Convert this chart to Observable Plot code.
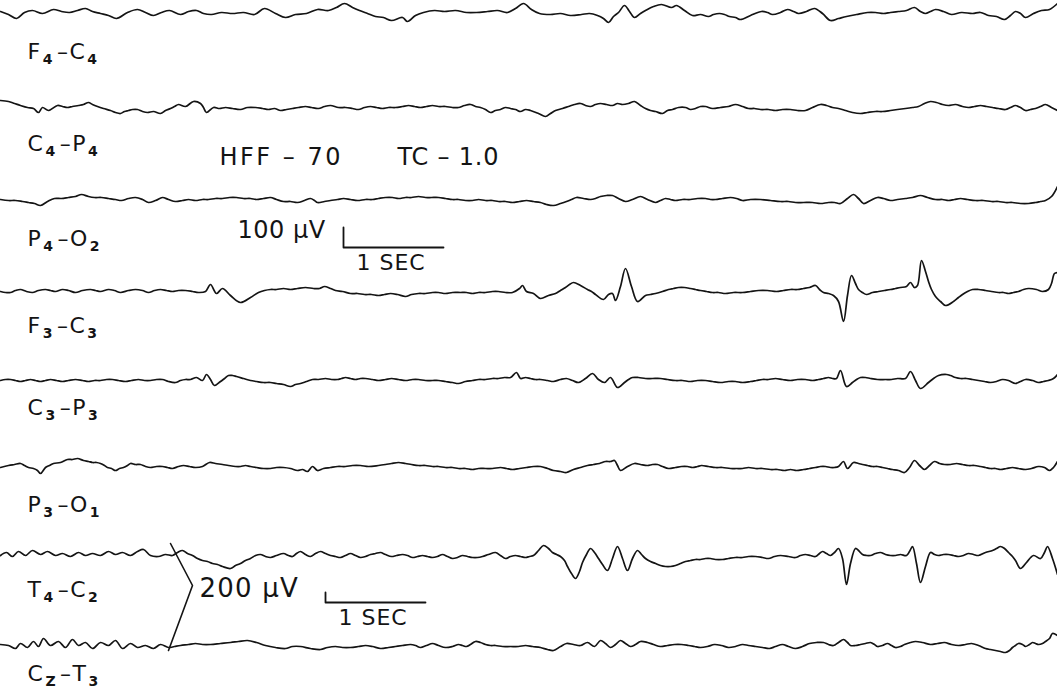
<!DOCTYPE html>
<html>
<head>
<meta charset="utf-8">
<script src="https://cdn.jsdelivr.net/npm/d3@7"></script>
<script src="https://cdn.jsdelivr.net/npm/@observablehq/plot@0.6"></script>
<style>
  html, body { margin: 0; padding: 0; background: #fff; }
  #chart svg { display: block; }
</style>
</head>
<body>
<div id="chart"></div>
<script>
// Bipolar montage channel names; "_x" marks a subscript character.
const channelNames = ["F_4–C_4", "C_4–P_4", "P_4–O_2", "F_3–C_3", "C_3–P_3", "P_3–O_1", "T_4–C_2", "C_Z–T_3"];

// Each trace: [time (s), deflection (µV)], positive = upward pen deflection.
const f4c4 = [[0,10],[0.08,-5],[0.16,-25],[0.24,5],[0.32,15],[0.42,0],[0.53,20],[0.61,10],[0.69,5],[0.77,15],[0.85,25],[0.92,10],[1.00,0],[1.08,-10],[1.16,-25],[1.27,5],[1.37,20],[1.45,5],[1.53,-10],[1.61,5],[1.69,15],[1.80,-5],[1.88,10],[1.96,15],[2.03,0],[2.11,-5],[2.21,5],[2.32,0],[2.43,5],[2.54,-5],[2.64,25],[2.75,0],[2.85,-20],[2.95,-5],[3.06,0],[3.17,20],[3.28,15],[3.36,30],[3.44,50],[3.52,30],[3.59,15],[3.67,0],[3.75,-15],[3.83,-20],[3.91,-35],[4.02,-20],[4.07,-40],[4.15,-10],[4.23,5],[4.34,15],[4.44,10],[4.55,15],[4.66,5],[4.76,5],[4.87,10],[4.97,15],[5.07,5],[5.15,25],[5.23,50],[5.31,20],[5.39,0],[5.50,-5],[5.60,0],[5.70,-10],[5.81,-5],[5.89,0],[5.97,-10],[6.03,-25],[6.08,-45],[6.13,-15],[6.18,5],[6.24,40],[6.29,10],[6.34,-20],[6.40,0],[6.45,15],[6.53,35],[6.61,45],[6.71,30],[6.76,40],[6.84,15],[6.92,-10],[7.00,-5],[7.08,-15],[7.13,-5],[7.19,0],[7.24,-5],[7.29,-15],[7.35,-20],[7.40,-30],[7.50,-10],[7.61,10],[7.67,5],[7.72,-5],[7.80,5],[7.87,20],[7.93,10],[7.98,0],[8.06,10],[8.14,25],[8.22,0],[8.30,-35],[8.38,-25],[8.46,-15],[8.56,-5],[8.67,5],[8.75,5],[8.83,0],[8.90,5],[8.98,10],[9.06,15],[9.14,30],[9.20,10],[9.25,0],[9.30,10],[9.35,20],[9.43,10],[9.51,-5],[9.61,5],[9.72,0],[9.80,5],[9.88,-10],[9.96,-15],[10.04,-30],[10.10,-10],[10.15,10],[10.20,0],[10.25,-20],[10.33,0],[10.41,15],[10.49,20],[10.57,50]];

const c4p4 = [[0,40],[0.08,35],[0.14,25],[0.20,15],[0.27,5],[0.33,0],[0.38,-20],[0.42,5],[0.48,-10],[0.57,15],[0.62,10],[0.67,5],[0.72,10],[0.78,15],[0.83,20],[0.88,30],[0.92,20],[0.97,10],[1.03,0],[1.10,-10],[1.15,-20],[1.20,-25],[1.24,-15],[1.28,-10],[1.32,-5],[1.37,-5],[1.42,-15],[1.47,-20],[1.53,-15],[1.60,-25],[1.65,-10],[1.70,0],[1.74,10],[1.78,20],[1.85,10],[1.93,35],[2.00,25],[2.03,5],[2.06,-20],[2.13,5],[2.19,0],[2.25,5],[2.32,0],[2.40,-5],[2.47,5],[2.55,5],[2.62,0],[2.68,-5],[2.74,0],[2.80,-10],[2.86,-5],[2.92,0],[2.98,5],[3.05,10],[3.11,5],[3.18,0],[3.24,10],[3.30,15],[3.38,5],[3.45,5],[3.52,0],[3.58,-5],[3.64,5],[3.70,10],[3.76,5],[3.82,0],[3.88,5],[3.95,5],[4.02,10],[4.08,15],[4.14,10],[4.20,5],[4.26,10],[4.32,15],[4.38,10],[4.45,10],[4.52,5],[4.58,5],[4.64,15],[4.70,20],[4.75,10],[4.80,5],[4.85,-5],[4.90,-20],[4.95,-10],[5.00,-5],[5.05,5],[5.10,0],[5.15,-5],[5.20,-15],[5.25,-5],[5.30,-10],[5.38,-25],[5.45,-40],[5.50,-25],[5.55,-10],[5.62,0],[5.68,10],[5.74,20],[5.80,25],[5.85,15],[5.90,10],[5.95,20],[6.00,25],[6.06,20],[6.12,15],[6.17,25],[6.22,20],[6.28,25],[6.34,35],[6.40,15],[6.45,0],[6.50,-10],[6.55,-15],[6.62,-25],[6.67,-10],[6.72,-5],[6.78,5],[6.85,5],[6.90,-5],[6.95,0],[7.00,10],[7.05,10],[7.12,0],[7.20,5],[7.28,10],[7.35,20],[7.42,10],[7.48,0],[7.54,0],[7.60,-5],[7.68,-5],[7.75,-10],[7.82,-5],[7.90,-5],[7.97,-10],[8.05,-10],[8.12,5],[8.20,20],[8.26,15],[8.32,5],[8.38,0],[8.45,-10],[8.52,-20],[8.60,-25],[8.67,-20],[8.75,-15],[8.82,-15],[8.90,-10],[8.97,-5],[9.05,0],[9.12,5],[9.18,10],[9.24,25],[9.30,35],[9.36,30],[9.42,20],[9.48,15],[9.55,20],[9.62,10],[9.68,5],[9.74,10],[9.80,15],[9.86,10],[9.92,5],[9.98,0],[10.05,-5],[10.10,5],[10.15,15],[10.20,5],[10.25,-10],[10.30,-5],[10.35,0],[10.40,10],[10.45,20],[10.51,5],[10.57,-10]];

const p4o2 = [[0,5],[0.08,0],[0.15,0],[0.22,-5],[0.28,-10],[0.34,-15],[0.40,-25],[0.47,-5],[0.54,10],[0.61,10],[0.68,15],[0.75,20],[0.81,30],[0.88,20],[0.94,15],[1.01,15],[1.08,10],[1.15,5],[1.21,0],[1.28,10],[1.35,15],[1.42,5],[1.48,-10],[1.55,0],[1.62,15],[1.68,5],[1.75,-5],[1.82,0],[1.88,5],[1.95,0],[2.02,5],[2.08,5],[2.15,10],[2.22,10],[2.29,15],[2.36,15],[2.43,10],[2.50,10],[2.56,5],[2.63,10],[2.70,15],[2.76,5],[2.83,-5],[2.90,-5],[2.97,-10],[3.04,0],[3.10,10],[3.14,0],[3.17,-10],[3.24,-5],[3.30,0],[3.37,5],[3.43,10],[3.50,5],[3.57,0],[3.65,5],[3.72,5],[3.78,10],[3.85,15],[3.92,15],[3.98,10],[4.05,15],[4.11,15],[4.18,20],[4.25,15],[4.31,15],[4.38,15],[4.45,10],[4.52,5],[4.58,5],[4.65,0],[4.72,0],[4.78,5],[4.85,0],[4.92,0],[4.98,-5],[5.05,-5],[5.12,-10],[5.19,-5],[5.26,0],[5.33,-5],[5.40,-10],[5.46,-20],[5.53,-25],[5.60,-15],[5.66,-5],[5.71,5],[5.76,15],[5.83,10],[5.90,5],[5.95,10],[6.00,20],[6.06,25],[6.12,25],[6.18,10],[6.25,-5],[6.32,5],[6.40,20],[6.47,5],[6.55,-10],[6.60,0],[6.65,10],[6.70,5],[6.75,0],[6.82,5],[6.90,5],[6.97,10],[7.05,10],[7.10,5],[7.15,5],[7.22,10],[7.30,15],[7.36,10],[7.42,0],[7.50,5],[7.60,5],[7.70,0],[7.80,-5],[7.88,-5],[7.95,-10],[8.03,-10],[8.12,-10],[8.20,-15],[8.28,-10],[8.34,-10],[8.40,-15],[8.47,10],[8.53,30],[8.58,10],[8.63,-15],[8.70,0],[8.77,15],[8.83,10],[8.90,0],[8.97,5],[9.05,10],[9.12,15],[9.20,25],[9.27,15],[9.35,5],[9.42,5],[9.48,0],[9.54,5],[9.60,10],[9.67,5],[9.75,0],[9.83,0],[9.91,-5],[9.98,-5],[10.05,-10],[10.12,-10],[10.20,-15],[10.28,-15],[10.35,-10],[10.40,-5],[10.45,0],[10.51,20],[10.57,70]];

const f3c3 = [[0,0],[0.05,-5],[0.10,-5],[0.15,5],[0.20,10],[0.26,0],[0.32,-5],[0.38,5],[0.45,10],[0.50,5],[0.55,0],[0.62,10],[0.68,5],[0.75,-5],[0.82,5],[0.90,10],[0.95,5],[1.00,0],[1.08,10],[1.14,5],[1.20,-5],[1.28,5],[1.35,10],[1.42,5],[1.48,-5],[1.54,5],[1.60,10],[1.66,5],[1.72,0],[1.78,5],[1.85,5],[1.92,0],[1.98,-5],[2.05,0],[2.10,35],[2.16,-10],[2.22,15],[2.30,-20],[2.40,-55],[2.50,-30],[2.58,-5],[2.64,5],[2.70,10],[2.76,10],[2.83,15],[2.90,10],[2.97,15],[3.05,20],[3.13,15],[3.19,15],[3.24,25],[3.30,15],[3.35,5],[3.42,0],[3.50,-10],[3.57,-10],[3.64,-15],[3.71,-15],[3.78,-20],[3.84,-15],[3.90,-10],[3.97,-15],[4.05,-25],[4.11,-15],[4.18,-10],[4.25,-10],[4.32,-5],[4.38,-5],[4.45,-10],[4.52,-5],[4.60,-5],[4.66,-5],[4.72,-10],[4.78,-5],[4.85,-5],[4.92,0],[4.98,0],[5.05,-5],[5.12,-5],[5.19,15],[5.22,30],[5.26,0],[5.33,-10],[5.40,-35],[5.48,-20],[5.55,-10],[5.60,5],[5.65,20],[5.69,35],[5.73,45],[5.80,30],[5.87,10],[5.91,0],[5.95,-15],[6.03,-40],[6.08,-15],[6.12,-10],[6.15,-45],[6.20,25],[6.25,115],[6.31,25],[6.37,-50],[6.45,-20],[6.50,-15],[6.55,-10],[6.62,0],[6.68,10],[6.73,15],[6.78,20],[6.84,20],[6.90,15],[6.95,10],[7.00,5],[7.06,0],[7.12,-5],[7.18,-5],[7.25,-10],[7.33,-5],[7.42,-5],[7.50,0],[7.58,5],[7.67,5],[7.76,0],[7.83,5],[7.90,10],[7.97,10],[8.03,15],[8.09,20],[8.15,30],[8.19,10],[8.23,-5],[8.28,-10],[8.33,-20],[8.38,-50],[8.43,-150],[8.47,-20],[8.51,80],[8.55,40],[8.58,10],[8.62,-5],[8.66,-15],[8.72,-5],[8.78,0],[8.84,5],[8.90,10],[8.95,15],[9.00,20],[9.06,25],[9.10,45],[9.14,20],[9.17,30],[9.21,155],[9.25,100],[9.28,50],[9.31,10],[9.35,-25],[9.40,-50],[9.45,-70],[9.53,-50],[9.58,-30],[9.62,-15],[9.67,0],[9.72,10],[9.78,10],[9.85,5],[9.91,0],[9.98,-5],[10.03,-5],[10.08,-10],[10.13,-5],[10.18,0],[10.23,10],[10.28,15],[10.36,10],[10.42,0],[10.48,10],[10.51,40],[10.54,90],[10.57,95]];

const c3p3 = [[0,0],[0.05,5],[0.10,5],[0.15,0],[0.20,-5],[0.25,0],[0.30,5],[0.35,0],[0.40,-5],[0.45,0],[0.50,5],[0.56,0],[0.62,-5],[0.68,0],[0.75,5],[0.82,0],[0.88,-5],[0.94,0],[1.00,0],[1.06,5],[1.12,5],[1.18,0],[1.25,-5],[1.31,0],[1.38,5],[1.44,0],[1.50,0],[1.56,5],[1.62,5],[1.68,-5],[1.75,-10],[1.80,0],[1.85,5],[1.90,5],[1.96,15],[2.02,0],[2.06,30],[2.10,5],[2.14,-25],[2.20,-5],[2.24,10],[2.28,25],[2.32,25],[2.36,20],[2.43,10],[2.50,0],[2.56,-5],[2.63,-10],[2.70,-10],[2.76,-15],[2.83,-20],[2.90,-30],[2.95,-20],[3.00,-15],[3.06,-5],[3.12,5],[3.18,5],[3.25,10],[3.31,5],[3.37,5],[3.41,10],[3.45,15],[3.50,10],[3.55,5],[3.60,10],[3.65,10],[3.72,5],[3.78,0],[3.85,5],[3.91,10],[3.98,5],[4.05,0],[4.12,5],[4.18,5],[4.25,0],[4.32,0],[4.38,0],[4.45,-5],[4.52,-10],[4.58,-15],[4.65,-5],[4.72,0],[4.78,5],[4.85,5],[4.92,10],[4.98,10],[5.04,15],[5.10,15],[5.16,40],[5.20,10],[5.25,15],[5.30,10],[5.35,5],[5.40,5],[5.47,0],[5.53,-5],[5.60,5],[5.66,10],[5.72,0],[5.78,-10],[5.85,10],[5.92,35],[5.98,5],[6.04,-10],[6.10,15],[6.17,-35],[6.24,-10],[6.28,5],[6.32,15],[6.38,15],[6.45,10],[6.52,10],[6.60,10],[6.67,5],[6.75,0],[6.82,0],[6.90,-5],[6.97,0],[7.05,0],[7.12,-5],[7.20,-10],[7.28,-5],[7.35,-5],[7.42,-10],[7.50,-5],[7.56,0],[7.62,5],[7.68,5],[7.75,10],[7.82,5],[7.90,0],[7.97,5],[8.05,5],[8.12,0],[8.18,5],[8.23,10],[8.28,15],[8.32,10],[8.36,10],[8.40,50],[8.46,-30],[8.52,-10],[8.56,5],[8.60,15],[8.65,15],[8.70,10],[8.77,5],[8.85,5],[8.91,5],[8.97,10],[9.05,10],[9.10,45],[9.15,0],[9.20,-40],[9.28,-10],[9.33,10],[9.38,25],[9.46,30],[9.50,25],[9.55,15],[9.60,10],[9.66,10],[9.72,5],[9.78,0],[9.84,-5],[9.90,-10],[9.96,-5],[10.02,5],[10.08,0],[10.15,-15],[10.20,-5],[10.25,5],[10.32,0],[10.38,-10],[10.43,-5],[10.48,0],[10.53,10],[10.57,30]];

const p3o1 = [[0,0],[0.08,10],[0.14,15],[0.20,20],[0.24,10],[0.28,0],[0.33,-5],[0.37,-15],[0.40,-30],[0.45,0],[0.49,10],[0.53,20],[0.60,25],[0.67,40],[0.72,40],[0.77,45],[0.83,35],[0.88,30],[0.92,25],[0.96,25],[1.00,20],[1.04,10],[1.07,0],[1.11,-5],[1.15,-15],[1.19,-5],[1.23,0],[1.27,10],[1.30,20],[1.35,15],[1.40,15],[1.45,5],[1.50,0],[1.56,5],[1.62,5],[1.67,0],[1.72,-5],[1.78,5],[1.83,10],[1.89,5],[1.95,0],[2.02,5],[2.09,25],[2.15,20],[2.22,15],[2.28,10],[2.35,5],[2.40,5],[2.45,10],[2.50,5],[2.56,0],[2.63,-5],[2.70,-5],[2.76,0],[2.83,0],[2.90,-5],[2.97,-15],[3.02,-10],[3.07,-20],[3.12,5],[3.17,-15],[3.23,-5],[3.30,0],[3.37,5],[3.45,5],[3.52,10],[3.60,10],[3.68,5],[3.78,10],[3.85,15],[3.91,20],[3.98,25],[4.05,20],[4.11,15],[4.18,10],[4.25,10],[4.32,5],[4.38,5],[4.45,0],[4.52,0],[4.58,-5],[4.65,-5],[4.72,-10],[4.78,-5],[4.85,-5],[4.92,-5],[5.00,0],[5.06,-5],[5.12,-10],[5.19,-5],[5.26,0],[5.33,5],[5.40,5],[5.47,-5],[5.53,-15],[5.60,-20],[5.66,-25],[5.73,-10],[5.80,0],[5.87,10],[5.93,15],[5.99,20],[6.05,30],[6.10,30],[6.14,35],[6.17,10],[6.20,-15],[6.27,5],[6.34,20],[6.40,15],[6.47,10],[6.52,15],[6.57,15],[6.62,5],[6.68,-5],[6.75,0],[6.81,5],[6.87,5],[6.92,0],[6.97,5],[7.01,10],[7.08,5],[7.15,0],[7.22,0],[7.30,-5],[7.36,-5],[7.42,-5],[7.48,0],[7.55,-5],[7.62,-5],[7.70,-10],[7.77,-10],[7.84,-15],[7.90,-10],[7.96,-15],[8.03,-10],[8.09,-5],[8.15,0],[8.20,5],[8.25,5],[8.30,0],[8.34,0],[8.38,5],[8.43,30],[8.47,-5],[8.53,25],[8.58,20],[8.62,15],[8.67,10],[8.72,5],[8.77,5],[8.82,0],[8.87,-5],[8.92,-10],[8.98,-15],[9.04,-25],[9.09,0],[9.14,35],[9.19,10],[9.24,-10],[9.29,10],[9.34,30],[9.39,20],[9.44,15],[9.50,15],[9.56,20],[9.62,15],[9.68,10],[9.74,10],[9.80,5],[9.85,0],[9.90,-5],[9.95,-5],[10.00,-10],[10.06,-5],[10.12,0],[10.18,-5],[10.25,-10],[10.31,-5],[10.38,5],[10.44,0],[10.49,-15],[10.53,0],[10.57,30]];

const t4c2 = [[0,60],[0.06,120],[0.12,40],[0.18,140],[0.25,60],[0.32,160],[0.40,80],[0.47,140],[0.55,60],[0.62,100],[0.70,40],[0.78,120],[0.85,60],[0.92,100],[1.00,60],[1.08,140],[1.15,80],[1.22,120],[1.30,60],[1.37,140],[1.43,180],[1.50,60],[1.58,40],[1.65,80],[1.72,60],[1.77,120],[1.82,160],[1.87,100],[1.92,60],[1.97,0],[2.02,-40],[2.07,-60],[2.12,-100],[2.17,-120],[2.22,-160],[2.30,-200],[2.35,-140],[2.40,-100],[2.45,-40],[2.50,0],[2.55,60],[2.60,80],[2.65,40],[2.70,20],[2.76,60],[2.83,100],[2.88,60],[2.92,40],[2.96,100],[3.00,140],[3.05,80],[3.10,40],[3.15,100],[3.20,140],[3.25,100],[3.30,60],[3.35,40],[3.40,20],[3.45,60],[3.50,100],[3.55,60],[3.60,20],[3.65,40],[3.70,80],[3.75,100],[3.80,120],[3.85,80],[3.91,40],[3.96,60],[4.02,80],[4.07,60],[4.12,20],[4.17,40],[4.22,60],[4.27,40],[4.32,20],[4.37,40],[4.42,80],[4.47,40],[4.52,0],[4.57,20],[4.62,60],[4.67,40],[4.72,20],[4.77,20],[4.82,40],[4.88,80],[4.95,120],[5.00,60],[5.05,0],[5.10,40],[5.15,60],[5.20,40],[5.25,20],[5.29,40],[5.33,60],[5.38,160],[5.43,260],[5.48,200],[5.52,120],[5.56,80],[5.60,40],[5.64,-40],[5.67,-160],[5.71,-300],[5.75,-400],[5.79,-260],[5.82,-80],[5.86,80],[5.90,200],[5.94,120],[5.98,0],[6.02,-120],[6.07,-240],[6.12,0],[6.17,240],[6.22,0],[6.27,-240],[6.32,0],[6.37,160],[6.41,80],[6.45,0],[6.50,-60],[6.55,-100],[6.60,-140],[6.65,-160],[6.70,-160],[6.75,-140],[6.80,-100],[6.85,-60],[6.90,-40],[6.95,-20],[7.00,-20],[7.05,0],[7.10,0],[7.15,-20],[7.22,-20],[7.28,0],[7.35,20],[7.42,20],[7.48,40],[7.55,40],[7.62,20],[7.68,0],[7.74,40],[7.80,60],[7.88,40],[7.95,20],[8.00,60],[8.05,80],[8.10,60],[8.15,40],[8.19,100],[8.22,140],[8.26,100],[8.30,60],[8.34,120],[8.38,200],[8.42,0],[8.46,-520],[8.50,-100],[8.55,200],[8.58,160],[8.62,80],[8.66,60],[8.70,60],[8.75,100],[8.80,120],[8.85,80],[8.90,60],[8.95,60],[9.00,80],[9.06,60],[9.09,140],[9.12,240],[9.16,-100],[9.20,-480],[9.25,-160],[9.30,120],[9.34,80],[9.38,60],[9.43,80],[9.48,80],[9.53,60],[9.58,40],[9.63,60],[9.68,100],[9.73,80],[9.78,60],[9.85,120],[9.92,160],[9.96,200],[10.00,240],[10.04,200],[10.08,120],[10.12,40],[10.15,-40],[10.20,-200],[10.26,-80],[10.33,60],[10.40,0],[10.44,120],[10.47,240],[10.52,0],[10.57,-320]];

const czt3 = [[0,20],[0.08,0],[0.15,-60],[0.20,40],[0.27,-40],[0.33,80],[0.38,-20],[0.43,140],[0.50,0],[0.58,80],[0.65,-40],[0.72,120],[0.78,0],[0.85,60],[0.92,-60],[1.00,60],[1.08,0],[1.15,100],[1.22,-60],[1.30,40],[1.37,-40],[1.45,0],[1.53,-60],[1.60,20],[1.68,-40],[1.74,-20],[1.80,0],[1.88,20],[1.95,40],[2.02,20],[2.10,20],[2.20,40],[2.30,60],[2.38,80],[2.47,100],[2.56,60],[2.65,0],[2.75,-40],[2.85,-60],[2.92,-20],[3.00,-20],[3.10,-60],[3.20,-80],[3.27,-40],[3.35,-20],[3.42,-40],[3.50,-40],[3.58,-20],[3.65,0],[3.72,-20],[3.80,-60],[3.88,-40],[3.95,-20],[4.02,0],[4.10,20],[4.15,0],[4.20,-40],[4.26,0],[4.32,40],[4.38,0],[4.45,-40],[4.52,-20],[4.58,20],[4.62,0],[4.66,-20],[4.70,20],[4.75,80],[4.80,60],[4.85,20],[4.90,0],[4.95,0],[5.02,-20],[5.10,-20],[5.18,-20],[5.25,0],[5.32,-20],[5.40,-40],[5.47,-80],[5.53,-100],[5.60,-20],[5.66,40],[5.73,20],[5.80,0],[5.87,60],[5.94,-20],[6.00,100],[6.05,40],[6.10,-40],[6.15,20],[6.20,100],[6.25,40],[6.30,-20],[6.35,20],[6.40,80],[6.47,60],[6.53,20],[6.60,-20],[6.67,0],[6.74,20],[6.81,20],[6.88,0],[6.94,-20],[7.00,-40],[7.07,-20],[7.14,20],[7.21,0],[7.28,-40],[7.35,-20],[7.42,20],[7.48,0],[7.55,-20],[7.62,-40],[7.69,-60],[7.75,-20],[7.82,20],[7.88,-20],[7.95,-60],[8.02,-20],[8.09,40],[8.16,60],[8.23,60],[8.28,20],[8.33,0],[8.38,60],[8.43,120],[8.47,60],[8.50,0],[8.55,0],[8.60,20],[8.65,40],[8.70,60],[8.74,20],[8.77,-20],[8.82,0],[8.87,40],[8.91,0],[8.95,-40],[9.00,-20],[9.04,20],[9.10,60],[9.15,80],[9.22,60],[9.30,20],[9.37,40],[9.44,60],[9.51,20],[9.58,0],[9.65,20],[9.71,40],[9.78,0],[9.85,-60],[9.90,-80],[9.95,-100],[10.00,-120],[10.05,-140],[10.09,-100],[10.12,-40],[10.15,0],[10.18,40],[10.22,20],[10.25,-20],[10.29,20],[10.32,60],[10.35,40],[10.38,20],[10.42,40],[10.45,80],[10.49,140],[10.52,240],[10.57,200]];

const traces = [f4c4, c4p4, p4o2, f3c3, c3p3, p3o1, t4c2, czt3];

// Recording settings and calibration pulses
const filterText = "HFF – 70";
const timeConstText = "TC – 1.0";
const calibrations = [
  {amplitude: 100, duration: 1, label: "100 µV", timeLabel: "1 SEC"},
  {amplitude: 200, duration: 1, label: "200 µV", timeLabel: "1 SEC"}
];

// ---- layout ----
const W = 1057, H = 693;
const tMax = 10.57;                                  // seconds across the page
const sensitivity = [5, 5, 5, 5, 5, 5, 20, 20];      // µV per pixel of pen travel
const baseline = [13, 108, 200, 291, 380, 467, 558, 645];
const labelRow = [51, 143, 238, 325, 407, 504, 589, 673];
const ink = "#141414";
const font = "'DejaVu Sans', 'Noto Sans', sans-serif";

const tracePoints = traces.flatMap((tr, i) =>
  tr.map(([t, v]) => ({ch: i, t, y: baseline[i] - v / sensitivity[i]})));

const labelRows = channelNames.map((name, i) => ({name, t: 0.27, y: labelRow[i]}));

// calibration "L" marks: vertical = amplitude, horizontal = duration
const calAnchor = [{t: 3.43, y: 247, g: 5}, {t: 3.25, y: 602, g: 20}];
const calLines = calibrations.flatMap((c, k) => {
  const a = calAnchor[k];
  return [
    {k, t: a.t, y: a.y - c.amplitude / a.g},
    {k, t: a.t, y: a.y},
    {k, t: a.t + c.duration, y: a.y}
  ];
});

const notes = [
  {text: filterText, t: 2.19, y: 157, size: 24, ls: 2.5},
  {text: timeConstText, t: 3.97, y: 157, size: 24, ls: 0.8},
  {text: calibrations[0].label, t: 2.37, y: 230, size: 24, ls: 0.5},
  {text: calibrations[0].timeLabel, t: 3.56, y: 262, size: 22, ls: 1},
  {text: calibrations[1].label, t: 1.99, y: 588, size: 26, ls: 1.2},
  {text: calibrations[1].timeLabel, t: 3.38, y: 617, size: 22, ls: 1}
];

// bracket grouping the two temporal channels with their calibration
const bracket = [{t: 1.70, y: 543}, {t: 1.92, y: 585}, {t: 1.68, y: 650}];

const chart = Plot.plot({
  width: W,
  height: H,
  margin: 0,
  x: {domain: [0, tMax], range: [0, W], axis: null},
  y: {domain: [0, H], range: [0, H], axis: null},
  style: {background: "#fff", fontFamily: font, color: ink},
  marks: [
    Plot.line(tracePoints, {x: "t", y: "y", z: "ch", curve: "catmull-rom", stroke: ink, strokeWidth: 1.7, strokeLinejoin: "round"}),
    Plot.line(calLines, {x: "t", y: "y", z: "k", stroke: ink, strokeWidth: 1.8}),
    Plot.line(bracket, {x: "t", y: "y", stroke: ink, strokeWidth: 1.6}),
    Plot.text(labelRows, {x: "t", y: "y", text: "name", textAnchor: "start", fontSize: 22, fill: ink}),
    Plot.text(notes, {x: "t", y: "y", text: "text", textAnchor: "start", fontSize: d => d.size, fill: ink})
  ]
});

// letter spacing for the annotation texts
d3.select(chart).selectAll("text").each(function () {
  const n = notes.find(d => d.text === this.textContent);
  if (n) this.setAttribute("letter-spacing", n.ls);
});

// turn "_x" markers in channel names into lowered subscripts
d3.select(chart).selectAll("text").each(function () {
  const raw = this.textContent;
  if (!raw.includes("_")) return;
  const t = d3.select(this).attr("letter-spacing", 1.5);
  t.text(null);
  let lowered = false;
  for (const part of raw.split(/(_.)/)) {
    if (!part) continue;
    if (part.startsWith("_")) {
      t.append("tspan").attr("dy", lowered ? 0 : 5).attr("font-size", 14).attr("font-weight", 700).attr("dx", 1).text(part.slice(1));
      lowered = true;
    } else {
      t.append("tspan").attr("dy", lowered ? -5 : 0).attr("dx", lowered ? 3 : 0).text(part);
      lowered = false;
    }
  }
});

document.getElementById("chart").append(chart);
</script>
</body>
</html>
